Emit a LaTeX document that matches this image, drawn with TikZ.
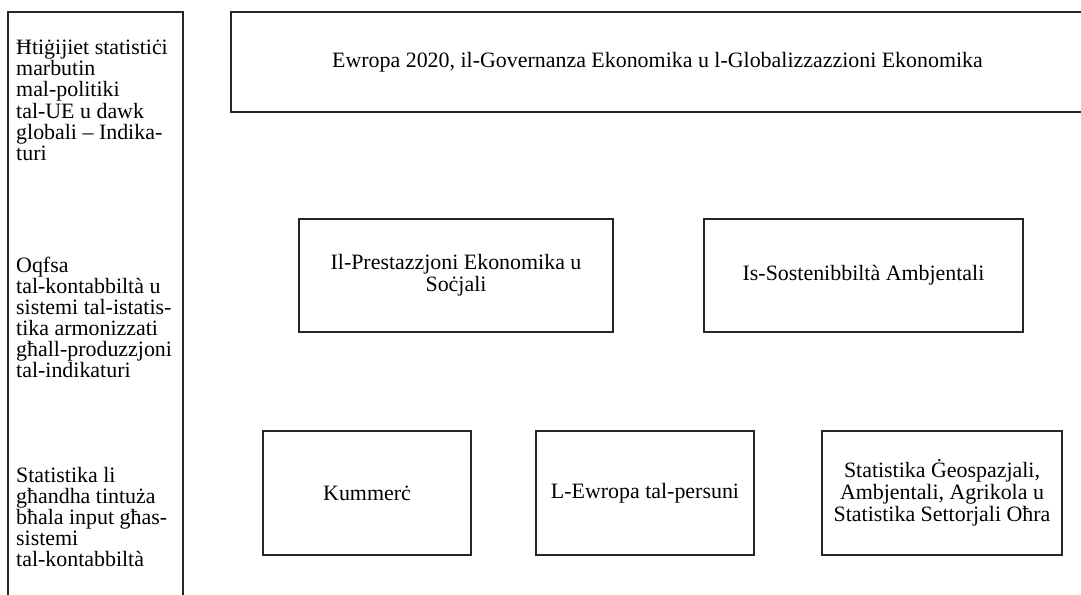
\documentclass[tikz,border=0pt]{standalone}
\usepackage{fontspec}
\setmainfont{Liberation Serif}
\begin{document}
\begin{tikzpicture}[x=1bp,y=-1bp,
  box/.style={draw=black!85, line width=1.3bp, rectangle, inner sep=0pt, align=center,
    font=\fontsize{22}{21.8}\selectfont},
  side/.style={anchor=north west, inner sep=0pt, align=left,
    font=\fontsize{22}{21.2}\selectfont}]
\useasboundingbox (0,0) rectangle (1081,595);
\clip (0,0) rectangle (1081,595);
\node[box, minimum width=175bp, minimum height=600bp] (left) at (95.5,312) {};
\node[box, minimum width=853bp, minimum height=100bp] (top) at (657.5,62) {Ewropa 2020, il-Governanza Ekonomika u l-Globalizzazzioni Ekonomika};
\node[box, minimum width=314bp, minimum height=113bp] (eco) at (456,275.5) {Il-Prestazzjoni Ekonomika u\\Soċjali};
\node[box, minimum width=319bp, minimum height=113bp] (env) at (863.5,275.5) {Is-Sostenibbiltà Ambjentali};
\node[box, minimum width=208bp, minimum height=124bp] (trade) at (367,493) {Kummerċ};
\node[box, minimum width=218bp, minimum height=124bp] (people) at (645,493) {L-Ewropa tal-persuni};
\node[box, minimum width=240bp, minimum height=124bp] (geo) at (942,493) {Statistika Ġeospazjali,\\Ambjentali, Agrikola u\\Statistika Settorjali Oħra};
\node[side] (t1) at (16,40) {Ħtiġijiet statistiċi\\marbutin\\mal-politiki\\tal-UE u dawk\\globali – Indika-\\turi};
\node[side] (t2) at (16,256.5) {Oqfsa\\tal-kontabbiltà u\\sistemi tal-istatis-\\tika armonizzati\\għall-produzzjoni\\tal-indikaturi};
\node[side] (t3) at (16,467) {Statistika li\\għandha tintuża\\bħala input għas-\\sistemi\\tal-kontabbiltà};
\end{tikzpicture}
\end{document}
